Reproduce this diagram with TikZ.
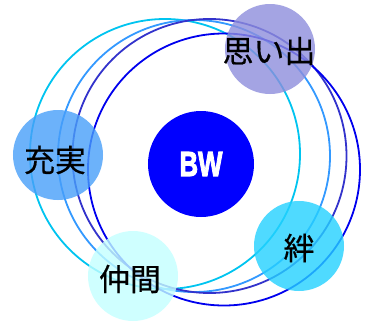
\documentclass[tikz,border=0pt]{standalone}
\usepackage{fontspec}
\usepackage{graphicx}
\newfontfamily\jpfont[FakeBold=0.6]{Noto Sans CJK JP}
\newfontfamily\bwfont[FakeBold=3]{Liberation Sans}
\definecolor{ringA}{RGB}{0,196,240}
\definecolor{ringB}{RGB}{51,153,255}
\definecolor{ringC}{RGB}{51,51,204}
\definecolor{ringD}{RGB}{0,0,238}
\definecolor{cOmoide}{RGB}{142,142,220}
\definecolor{cJujitsu}{RGB}{72,159,249}
\definecolor{cKizuna}{RGB}{36,209,255}
\definecolor{cNakama}{RGB}{196,255,255}
\definecolor{cCore}{RGB}{0,0,255}
\tikzset{
  ring/.style={line width=1.8bp},
  sat/.style={circle, minimum size=90bp, inner sep=0pt, fill opacity=0.8, text opacity=1},
  jptext/.style={font=\jpfont\fontsize{31}{31}\selectfont, text=black},
}
\begin{document}
\begin{tikzpicture}[x=1bp,y=-1bp]
\useasboundingbox (0,0) rectangle (370,325);
\fill[white] (0,0) rectangle (370,325);
% rings
\draw[ring, ringA] (165,154) circle[radius=135bp];
\draw[ring, ringB] (194,156) circle[radius=136bp];
\draw[ring, ringC] (209.5,156) circle[radius=137bp];
\draw[ring, ringD] (224,169.5) circle[radius=136bp];
% core
\node[circle, fill=cCore, minimum size=106bp, inner sep=0pt, text=white] (core) at (201,164)
  {\scalebox{0.74}[1]{\bwfont\bfseries\fontsize{35}{35}\selectfont BW}};
% satellites
\node[sat, fill=cOmoide] (omoide) at (270,49) {};
\node[sat, fill=cJujitsu] (jujitsu) at (58,155) {};
\node[sat, fill=cKizuna] (kizuna) at (299,246) {};
\node[sat, fill=cNakama] (nakama) at (133,276) {};
\node[jptext] (t1) at (269,51) {思い出};
\node[jptext] (t2) at (55,160) {充実};
\node[jptext] (t3) at (299,248) {絆};
\node[jptext] (t4) at (130,279) {仲間};
\end{tikzpicture}
\end{document}
